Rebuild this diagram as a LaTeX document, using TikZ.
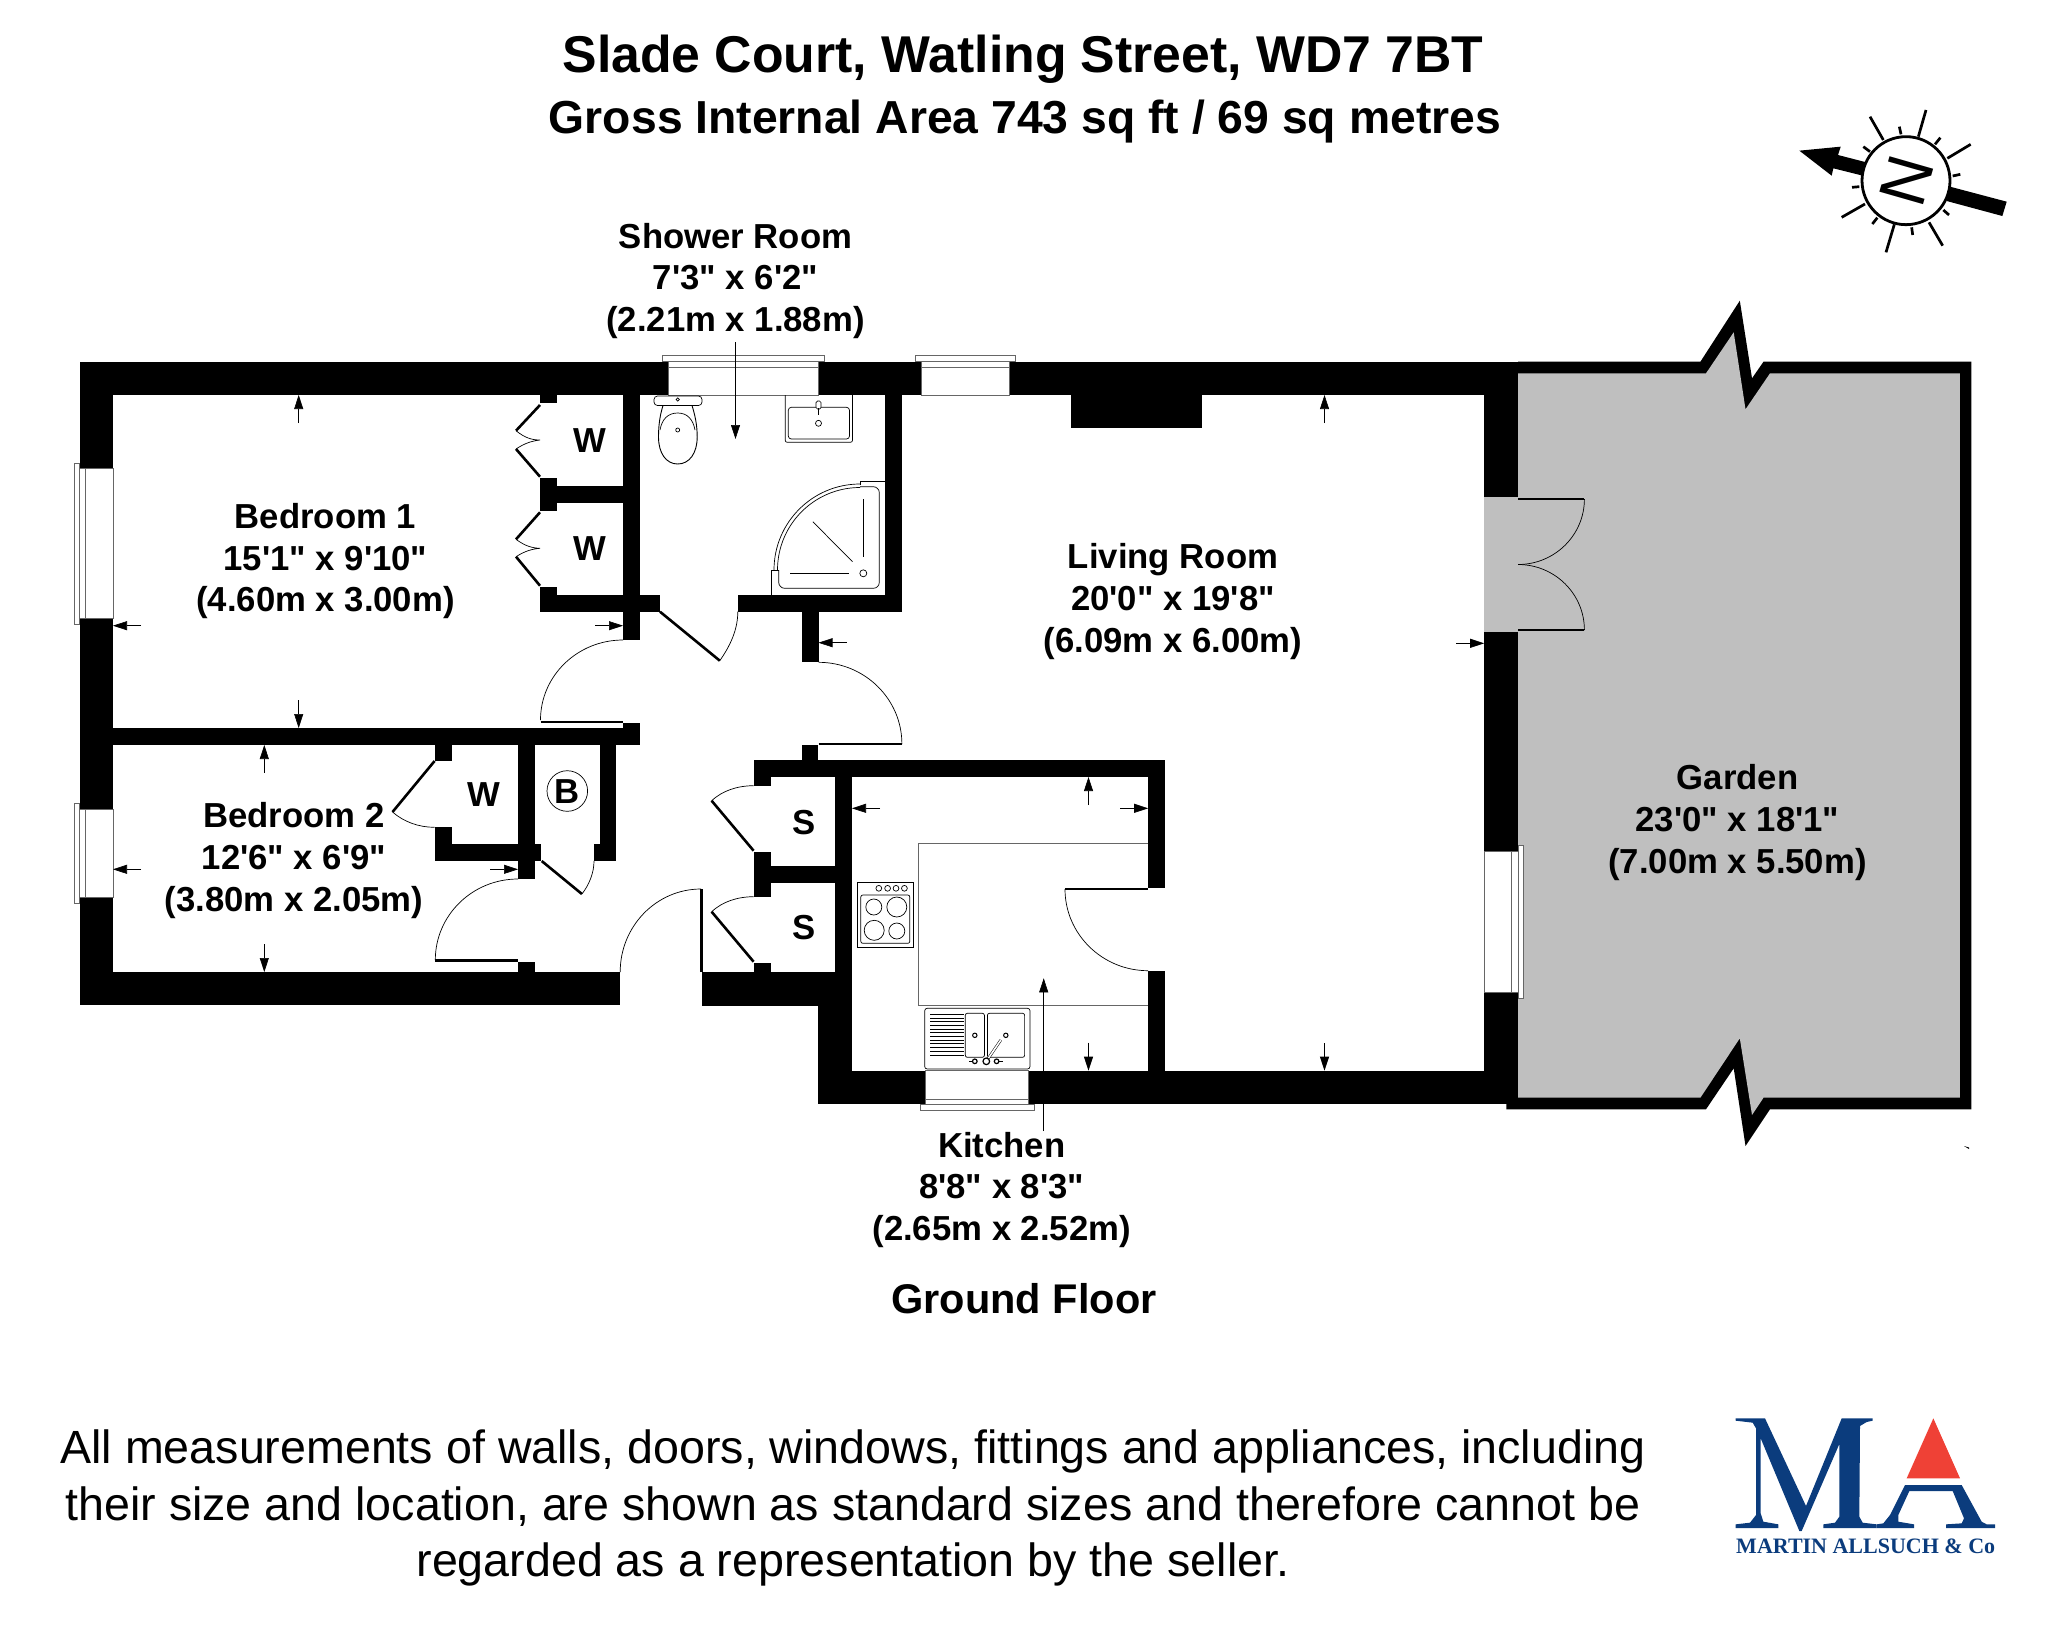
\documentclass[tikz,border=0pt]{standalone}
\usepackage{fontspec}
\usetikzlibrary{calc,arrows.meta}
\newfontfamily\lib{Liberation Sans}
\newfontfamily\libserif{Liberation Serif}
\newcommand\fsz[1]{\fontsize{#1}{#1}\selectfont}
\definecolor{garden}{HTML}{BFBFBF}
\definecolor{navy}{HTML}{0B3C7D}
\definecolor{logored}{HTML}{EF4136}
\tikzset{
  thinl/.style={line width=0.7pt,black},
  leaf/.style={line width=2.6pt,black},
  wkline/.style={line width=0.7pt,black!60},
  dimarr/.style={line width=0.6pt,-{Triangle[length=14pt,width=9pt]}},
  glass/.style={fill=white,draw=black!60,line width=0.7pt},
  ray/.style={line width=2.7pt,black},
  lbl/.style={anchor=base,inner sep=0pt,font=\lib\bfseries\fsz{34.7}},
  plain/.style={anchor=base,inner sep=0pt,font=\lib\fsz{46.6}}
}
\newcommand\qarc[3]{\draw[thinl] (#1) .. controls ($(#1)!.5523!(#2)$) and ($(#3)!.5523!(#2)$) .. (#3);}
\newcommand\wall[2]{\fill[black] (#1) rectangle (#2);}
\newcommand\room[6]{%
  \node[lbl] (#1a) at (#2,#3) {#4};
  \node[lbl] (#1b) at (#2,#3+41.8) {#5};
  \node[lbl] (#1c) at (#2,#3+83.6) {#6};}
\begin{document}
\begin{tikzpicture}[x=1pt,y=-1pt]
\useasboundingbox (0,0) rectangle (2048,1633);
% garden
\fill[black] (1518,361.7)--(1700.4,361.7)--(1739.8,300.7)--(1752,378.3)--(1763.5,361.7)--(1971.3,361.7)--(1971.3,1109.3)--(1770,1109.3)--(1745.5,1146)--(1733.7,1068.3)--(1706,1109.3)--(1506.4,1109.3)--(1506.4,1100)--(1518,1100)--cycle;
\fill[garden] (1518,373.3)--(1706,373.3)--(1733.7,332.3)--(1745.5,409.3)--(1770,373.3)--(1959.8,373.3)--(1959.8,1097.7)--(1763.5,1097.7)--(1752,1115)--(1739.8,1038.3)--(1700.4,1097.7)--(1518,1097.7)--cycle;
\fill[black] (1964,1146) -- (1969,1147.5) -- (1969,1149) -- cycle;
% walls
\wall{79.5,361.7}{1518,395}
\wall{79.5,361.7}{113,1005}
\wall{79.5,972}{620.2,1005}
\wall{113,728}{640.4,745}
\wall{623,723}{640.4,728}
\wall{623,395}{640.4,640}
\wall{540.2,395}{557,402.7}
\wall{540.2,478.3}{557,511}
\wall{557,485.7}{623,503}
\wall{540.2,586.7}{557,595}
\wall{540.2,595}{660,611.7}
\wall{737.8,595}{901.9,611.7}
\wall{885,395}{901.9,611.7}
\wall{802,611.7}{818.5,662.3}
\wall{801.9,745.3}{818.3,760}
\wall{753.6,759.7}{1165.4,777}
\wall{753.6,777}{770.9,785.7}
\wall{753.6,852.3}{770.9,896.7}
\wall{770.9,865.7}{835,883}
\wall{753.6,963}{770.9,972.3}
\wall{835,777}{852,1070.7}
\wall{702.4,972.3}{852,1005.7}
\wall{818,1005.7}{852,1104.3}
\wall{818,1070.7}{1518,1104.3}
\wall{1148.2,777}{1165.4,887.7}
\wall{1148.2,970.7}{1165.4,1070.7}
\wall{1071,395}{1201.6,428.3}
\wall{434.6,745}{451.8,761}
\wall{434.6,827.3}{451.8,861}
\wall{434.6,844}{540.6,861}
\wall{518,745}{534.8,879}
\wall{599.5,745}{616.3,861}
\wall{594,844}{616.3,861}
\wall{518,961.7}{534.8,972}
\wall{1484.2,361.7}{1518,1104.3}
% french door opening
\fill[garden] (1484.2,497.3) rectangle (1518,631.7);
% windows
\draw[glass] (79.5,468.7) rectangle (113,618.7);
\draw[glass] (74.1,463) rectangle (79.5,624);
\draw[wkline] (85.2,468.7)--(85.2,618.7);
\draw[glass] (79.5,809) rectangle (113,897);
\draw[glass] (74.1,803) rectangle (79.5,903);
\draw[wkline] (85.2,809)--(85.2,897);
\draw[glass] (668,361.7) rectangle (818,395);
\draw[glass] (662.4,355.7) rectangle (824.6,361.7);
\draw[wkline] (668,367)--(818,367);
\draw[glass] (921.4,361.7) rectangle (1009,395);
\draw[glass] (915.7,355.7) rectangle (1015.2,361.7);
\draw[wkline] (921.4,367)--(1009,367);
\draw[glass] (925.8,1070.7) rectangle (1028.8,1104.3);
\draw[glass] (920.5,1104.3) rectangle (1034.5,1110);
\draw[wkline] (925.8,1099)--(1028.8,1099);
\draw[glass] (1484.2,851) rectangle (1518,992.7);
\draw[glass] (1518,845.7) rectangle (1523,998.7);
\draw[wkline] (1511.7,851)--(1511.7,992.7);
% door leaves
\draw[leaf] (540.5,722)--(623,722);
\draw[leaf] (435.3,960.7)--(518,960.7);
\draw[leaf] (818.5,744)--(901.9,744);
\draw[leaf] (701.2,889)--(701.2,972.3);
\draw[leaf] (1065,889)--(1148.2,889);
\draw[leaf] (1518,499)--(1584.4,499);
\draw[leaf] (1518,630)--(1584.4,630);
\draw[leaf] (660,611.7)--(719.8,660.7);
\draw[leaf] (541.7,861)--(581.9,894);
\draw[leaf] (434.6,761)--(392.5,812);
\draw[leaf] (753.6,850.7)--(711.6,800.7);
\draw[leaf] (753.6,961.7)--(711.6,911.7);
\draw[leaf] (540,405)--(516,430.7);
\draw[leaf] (516,449)--(540,476.7);
\draw[leaf] (540,512.3)--(516,539.3);
\draw[leaf] (516,556.7)--(540,585.7);
\draw[thinl] (516,430.7) .. controls (525,438) and (532,440) .. (540,440) .. controls (532,441) and (525,443) .. (516,449);
\draw[thinl] (516,539.3) .. controls (525,546) and (532,548) .. (540,548.3) .. controls (532,549) and (525,551) .. (516,556.7);
% door swings
\qarc{623,640}{540.5,640}{540.5,720}
\qarc{518,879}{435.3,879}{435.3,960}
\qarc{818.5,662.3}{901.9,662.3}{901.9,744}
\qarc{701,889}{620.2,889}{620.2,972}
\qarc{1065,889}{1065,970.7}{1148.2,970.7}
\qarc{1584.4,499}{1584.4,564.5}{1518,564.5}
\qarc{1518,564.5}{1584.4,564.5}{1584.4,630}
\draw[thinl] (719.8,660.7) .. controls (730,646) and (737.8,630) .. (737.8,611.7);
\draw[thinl] (581.9,894) .. controls (589,885) and (594,873) .. (594,861);
\draw[thinl] (392.5,812) .. controls (404,822) and (419,827.3) .. (434.6,827.3);
\draw[thinl] (711.6,800.7) .. controls (722,791) and (737,785.7) .. (753.6,785.7);
\draw[thinl] (711.6,911.7) .. controls (722,902) and (737,896.7) .. (753.6,896.7);
% worktop
\draw[wkline] (1148.2,843.3)--(918.2,843.3)--(918.2,1005)--(1148.2,1005);
% toilet
\draw[thinl,fill=white,rounded corners=3.5pt] (654,396) rectangle (702,405.5);
\draw[thinl] (677.7,399.5) circle[radius=1.6pt];
\draw[line width=0.9pt] (663,405.5) .. controls (660,415) and (658.5,425) .. (658.5,437) .. controls (658.5,453) and (666,464) .. (677.7,464) .. controls (689.5,464) and (697.2,453) .. (697.2,437) .. controls (697.2,425) and (695,415) .. (692,405.5);
\draw[thinl] (660,430) .. controls (662,419) and (668,413) .. (677.7,413) .. controls (687,413) and (693,419) .. (695,430);
\draw[thinl] (677.7,430) circle[radius=2pt];
% basin
\draw[thinl,rounded corners=2pt] (785.2,395)--(785.2,442.3)--(852.5,442.3)--(852.5,395);
\draw[thinl,rounded corners=3pt] (788.3,407.3) rectangle (849.5,439);
\draw[thinl,fill=white,rounded corners=1.5pt] (816,401) rectangle (821,409);
\draw[line width=1.5pt] (818.5,408)--(818.5,415);
\draw[thinl] (818.5,423.3) circle[radius=3pt];
% shower
\draw[thinl] (860.2,485)--(860.2,481)--(885,481);
\draw[thinl] (771.8,595)--(771.8,570)--(778.7,570);
\draw[thinl,rounded corners=6pt] (860.2,486.7)--(879.3,486.7)--(879.3,588.3)--(778.7,588.3)--(778.7,570);
\qarc{860,484}{774,484}{774,570}
\qarc{860,487.5}{777.5,487.5}{777.5,570}
\draw[thinl] (863.3,499.3)--(863.3,557.3);
\draw[thinl] (790.2,573.3)--(848.7,573.3);
\draw[thinl] (812.8,521.7)--(852.5,561.7);
\draw[thinl] (863.3,573.3) circle[radius=3.5pt];
% hob
\draw[thinl] (857.3,882.3) rectangle (913.2,947);
\draw[thinl,rounded corners=2pt] (860.8,895) rectangle (909.8,943.3);
\foreach \hx in {878.8,887.6,896,904.4} \draw[thinl] (\hx,888.3) circle[radius=2.9pt];
\draw[thinl] (873.8,907) circle[radius=8pt];
\draw[thinl] (896.8,907) circle[radius=10pt];
\draw[thinl] (874.2,930.3) circle[radius=10pt];
\draw[thinl] (896.8,931) circle[radius=8pt];
% sink
\draw[thinl,rounded corners=2.5pt] (924.7,1008.3) rectangle (1030,1069);
\foreach \sy in {0,...,11} \draw[line width=0.9pt] (930,1014.3+3.7*\sy)--(963.7,1014.3+3.7*\sy);
\draw[thinl,rounded corners=2pt] (965.3,1013.3) rectangle (984.4,1057.3);
\draw[thinl,rounded corners=2pt] (987.4,1013.3) rectangle (1024.6,1057.3);
\draw[line width=1pt] (974.8,1035.3) circle[radius=2.2pt];
\draw[line width=1pt] (1005.8,1035.3) circle[radius=2.2pt];
\draw[line width=2.6pt,black] (986.3,1061.3)--(1000.8,1040);
\draw[line width=1.6pt,white] (986.3,1061.3)--(1000.8,1040);
\draw[line width=1.2pt,fill=white] (986.3,1061.3) circle[radius=3.3pt];
\draw[line width=1.2pt] (974.8,1061.3) circle[radius=2.3pt];
\draw[line width=1.2pt] (996.6,1061.3) circle[radius=2.3pt];
\draw[line width=1pt] (969,1061.3)--(972,1061.3) (999,1061.3)--(1003,1061.3);
% boiler circle
\draw[thinl] (567.3,791) circle[radius=20.3pt];
% dimension arrows
\coordinate (a1s) at (298.7,423); \coordinate (a1e) at (298.7,395); \draw[dimarr] (a1s)--(a1e);
\coordinate (a2s) at (298.7,700); \coordinate (a2e) at (298.7,728); \draw[dimarr] (a2s)--(a2e);
\coordinate (a3s) at (141,625.7); \coordinate (a3e) at (113,625.7); \draw[dimarr] (a3s)--(a3e);
\coordinate (a4s) at (595,625.7); \coordinate (a4e) at (623,625.7); \draw[dimarr] (a4s)--(a4e);
\coordinate (a5s) at (264.3,772.7); \coordinate (a5e) at (264.3,745); \draw[dimarr] (a5s)--(a5e);
\coordinate (a6s) at (264.3,944); \coordinate (a6e) at (264.3,972); \draw[dimarr] (a6s)--(a6e);
\coordinate (a7s) at (141,869.3); \coordinate (a7e) at (113,869.3); \draw[dimarr] (a7s)--(a7e);
\coordinate (a8s) at (490,869.3); \coordinate (a8e) at (518,869.3); \draw[dimarr] (a8s)--(a8e);
\coordinate (a9s) at (735.5,342); \coordinate (a9e) at (735.5,439); \draw[dimarr] (a9s)--(a9e);
\coordinate (b1s) at (846.8,642.7); \coordinate (b1e) at (818.5,642.7); \draw[dimarr] (b1s)--(b1e);
\coordinate (b2s) at (1324.5,423); \coordinate (b2e) at (1324.5,395); \draw[dimarr] (b2s)--(b2e);
\coordinate (b3s) at (1324.5,1043); \coordinate (b3e) at (1324.5,1070.7); \draw[dimarr] (b3s)--(b3e);
\coordinate (b4s) at (1456.2,643.3); \coordinate (b4e) at (1484.2,643.3); \draw[dimarr] (b4s)--(b4e);
\coordinate (b5s) at (1088.5,805); \coordinate (b5e) at (1088.5,777); \draw[dimarr] (b5s)--(b5e);
\coordinate (b6s) at (1088.5,1042.7); \coordinate (b6e) at (1088.5,1070.7); \draw[dimarr] (b6s)--(b6e);
\coordinate (b7s) at (880,808.3); \coordinate (b7e) at (852,808.3); \draw[dimarr] (b7s)--(b7e);
\coordinate (b8s) at (1120.2,808.3); \coordinate (b8e) at (1148.2,808.3); \draw[dimarr] (b8s)--(b8e);
\coordinate (b9s) at (1043.7,1131); \coordinate (b9e) at (1043.7,978.3); \draw[dimarr] (b9s)--(b9e);
% room labels
\room{bedone}{325.5}{528.3}{Bedroom 1}{15'1" x 9'10"}{(4.60m x 3.00m)}
\room{bedtwo}{294}{827.7}{Bedroom 2}{12'6" x 6'9"}{(3.80m x 2.05m)}
\room{living}{1173}{568.4}{Living Room}{20'0" x 19'8"}{(6.09m x 6.00m)}
\room{gard}{1737.5}{789.5}{Garden}{23'0" x 18'1"}{(7.00m x 5.50m)}
\room{kit}{1001.7}{1157}{Kitchen}{8'8" x 8'3"}{(2.65m x 2.52m)}
\room{shw}{735.5}{248}{Shower Room}{7'3" x 6'2"}{(2.21m x 1.88m)}
\node[lbl] (w1) at (589.5,452.5) {W};
\node[lbl] (w2) at (589.5,560.5) {W};
\node[lbl] (w3) at (484.3,806) {W};
\node[lbl] (s1) at (804.5,834) {S};
\node[lbl] (s2) at (804.5,939.5) {S};
\node[lbl] (b1) at (567.3,803) {B};
% titles
\node[lbl,font=\lib\bfseries\fsz{51.75}] (title) at (1023,72) {Slade Court, Watling Street, WD7 7BT};
\node[lbl,font=\lib\bfseries\fsz{46.3}] (sub) at (1025,133) {Gross Internal Area 743 sq ft / 69 sq metres};
\node[lbl,font=\lib\bfseries\fsz{41.5}] (gf) at (1024,1313.5) {Ground Floor};
\node[plain] (d1) at (853,1463.5) {All measurements of walls, doors, windows, fittings and appliances, including};
\node[plain] (d2) at (853,1520) {their size and location, are shown as standard sizes and therefore cannot be};
\node[plain] (d3) at (853,1576) {regarded as a representation by the seller.};
% compass
\begin{scope}[shift={(1780,90)},scale=1/3]
\fill[black] (510,290)--(680,335)--(667,378)--(500,333)--cycle;
\fill[black] (58,182)--(182,170)--(174,195)--(290,225)--(280,265)--(160,235)--(155,257)--cycle;
\draw[line width=2.8pt,fill=white] (378,272) circle[radius=132];
\foreach \ax/\ay/\bx/\by in {310/150/270/80,415/140/438/60,502/205/572/163,255/342/185/382,343/403/318/487,447/397/488/467,363/133/358/110,465/163/481/143,518/258/541/253,238/290/216/292,277/402/292/383,395/412/398/435,490/360/507/375,250/170/270/185}
  \draw[ray] (\ax,\ay)--(\bx,\by);
\end{scope}
\node[rotate=-106,inner sep=0pt,font=\lib\fsz{66}] (north) at (1906.5,181) {N};
% logo
\begin{scope}[shift={(1720,1400)},scale=1/3]
\fill[navy] (47,55)--(135,55)--(258,318)--(365,55)--(458,55)--(458,62)--(440,66)--(420,78)--(418,350)--(428,368)--(470,373)--(470,384)--(310,384)--(310,373)--(345,368)--(358,350)--(358,132)--(245,393)--(238,393)--(122,115)--(122,340)--(130,365)--(175,373)--(175,384)--(47,384)--(47,373)--(90,368)--(108,345)--(108,85)--(98,68)--(47,62)--cycle;
\fill[navy] (555,255)--(725,255)--(785,365)--(800,373)--(825,373)--(825,384)--(678,384)--(678,373)--(725,370)--(732,355)--(698,273)--(568,273)--(535,345)--(535,365)--(582,373)--(582,384)--(470,384)--(470,373)--(490,370)--(510,345)--cycle;
\fill[logored] (640,55)--(720,235)--(560,235)--cycle;
\end{scope}
\node[anchor=base,inner sep=0pt,text=navy,font=\libserif\bfseries\fsz{22}] (firm) at (1865.7,1553.5) {MARTIN ALLSUCH \& Co};
\end{tikzpicture}
\end{document}
